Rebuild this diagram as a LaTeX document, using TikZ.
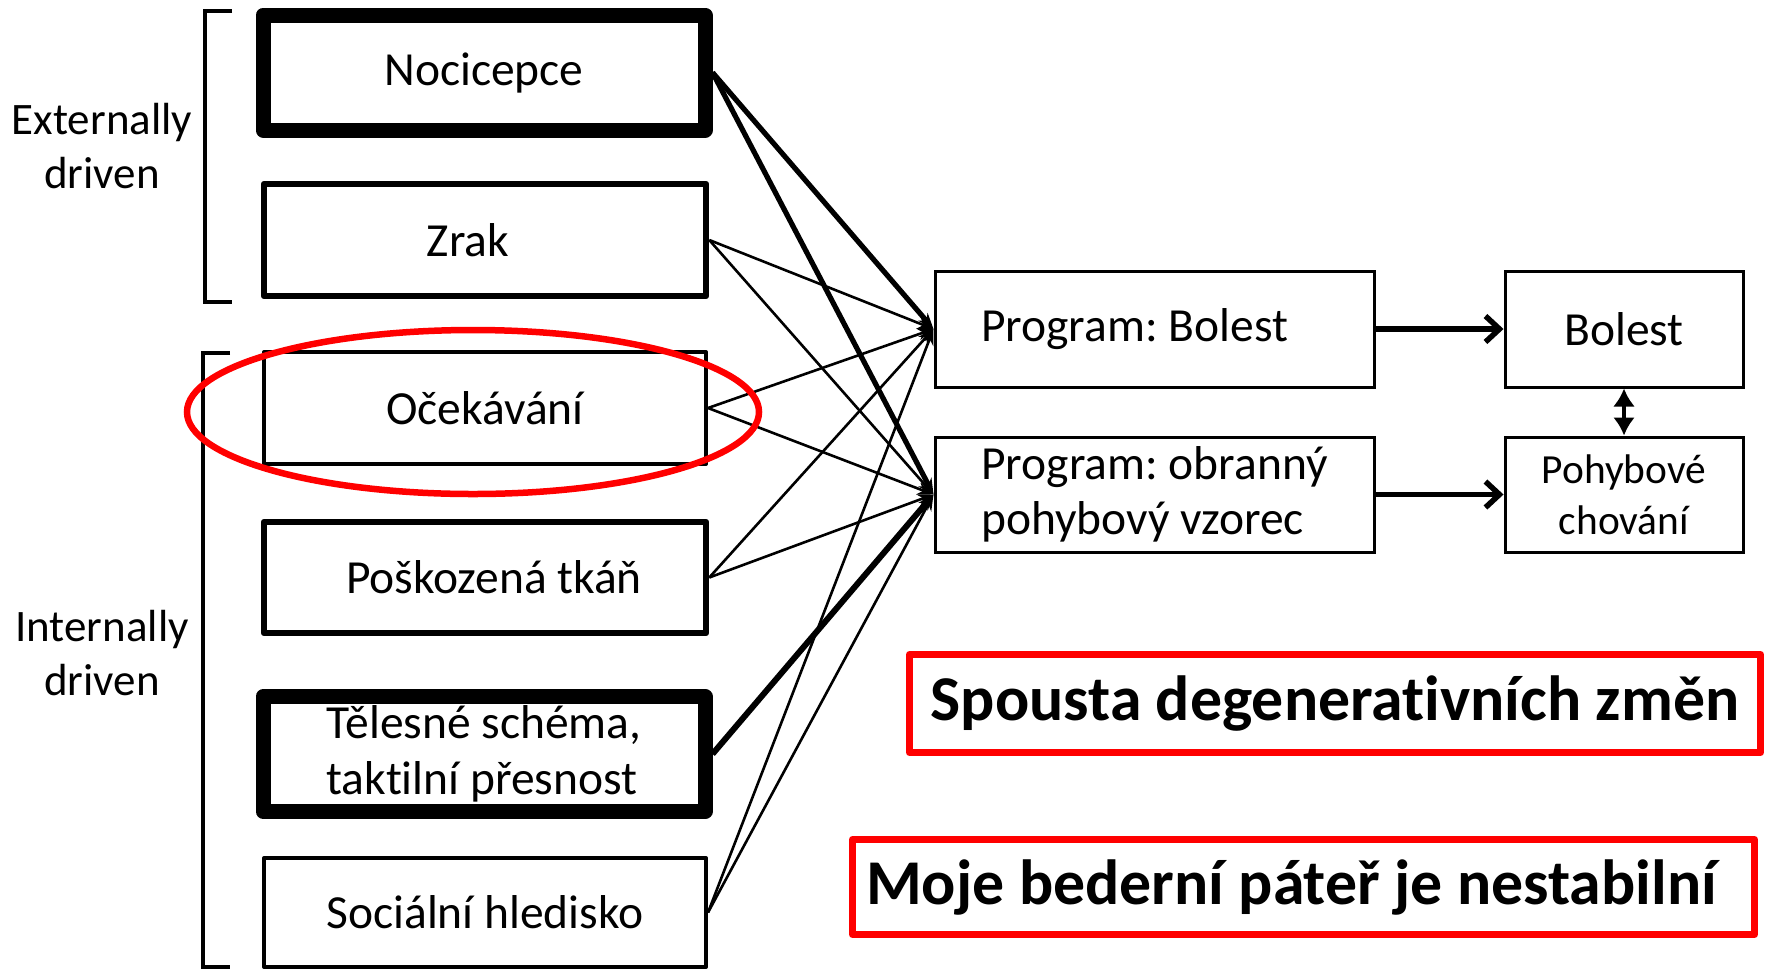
\documentclass[tikz,border=0pt]{standalone}
\usepackage{fontspec}
\setmainfont[Ligatures=NoCommon]{Carlito}
\frenchspacing
\usetikzlibrary{arrows.meta}
\tikzset{
  inbox/.style={draw, line join=round, minimum width=221pt, inner sep=0pt, align=center,
    font=\fontsize{23.75}{28}\selectfont},
  progbox/.style={draw, line width=1.5pt, minimum height=57.5pt, inner sep=0pt,
    font=\fontsize{23.75}{27.5}\selectfont},
  redbox/.style={draw=red, line width=3.5pt, line join=round, inner sep=0pt,
    font=\fontsize{31.9}{36}\selectfont\bfseries},
  conn/.style={line width=1.3pt, -{Stealth[length=8pt,width=6pt]}},
  conn thick/.style={line width=2.6pt, -{Stealth[length=8pt,width=6pt]}},
  outarrow/.style={line width=2.75pt, -{Straight Barb[length=7pt,width=13pt]}},
  side/.style={align=center, font=\fontsize{22.5}{27}\selectfont}
}
\begin{document}
\begin{tikzpicture}[x=0.5pt,y=-0.5pt]
\useasboundingbox (0,0) rectangle (1770,970);
% zavorky
\draw[line width=1.75pt] (232,11) -- (205,11) -- (205,302) -- (232,302);
\draw[line width=1.75pt] (230,353) -- (203,353) -- (203,967) -- (230,967);
\node[side] (ext) at (102,146) {Externally\\driven};
\node[side] (int) at (102,653) {Internally\\driven};
% vstupy
\node[inbox, line width=7.5pt, minimum height=57.5pt] (noci) at (484,72.5) {Nocicepce};
\node[inbox, line width=3.25pt, minimum height=56pt] (zrak) at (485,240) {Zrak\hspace*{17pt}};
\node[inbox, line width=2pt, minimum height=56pt] (ocek) at (485,408) {Očekávání};
\node[inbox, line width=3.25pt, minimum height=55.5pt] (posk) at (485,577.5) {\hspace*{9pt}Poškozená tkáň};
\node[inbox, line width=7.5pt, minimum height=57.5pt, align=left] (teles) at (484,754) {Tělesné schéma,\\taktilní přesnost};
\node[inbox, line width=2pt, minimum height=54.5pt] (soci) at (485,912.5) {Sociální hledisko};
% programy
\node[progbox, minimum width=219.5pt, minimum height=58pt] (pbol) at (1154.5,329) {Program: Bolest\hspace*{20pt}};
\node[progbox, minimum width=219.5pt, align=left] (pobr) at (1154.5,494.5) {Program: obranný\\pohybový vzorec};
\node[progbox, minimum width=119pt, minimum height=58pt] (bol) at (1624,329) {Bolest};
\node[progbox, minimum width=119pt, align=center, font=\fontsize{20.7}{25.5}\selectfont] (pohyb) at (1624,494.5) {Pohybové\\chování};
% spoje
\draw[conn thick] (noci.east) -- (pbol.west);
\draw[conn thick] (noci.east) -- (pobr.west);
\draw[conn] (zrak.east) -- (pbol.west);
\draw[conn] (zrak.east) -- (pobr.west);
\draw[conn] (ocek.east) -- (pbol.west);
\draw[conn] (ocek.east) -- (pobr.west);
\draw[conn] (posk.east) -- (pbol.west);
\draw[conn] (posk.east) -- (pobr.west);
\draw[conn thick, line width=3pt] (teles.east) -- (pobr.west);
\draw[conn] (soci.east) -- (pbol.west);
\draw[conn] (soci.east) -- (pobr.west);
\draw[outarrow] (pbol.east) -- (bol.west);
\draw[outarrow] (pobr.east) -- (pohyb.west);
\draw[line width=2.4pt, {Latex[length=9pt,width=11pt]}-{Latex[length=9pt,width=11pt]}] (bol.south) -- (pohyb.north);
% cervene
\draw[red, line width=3.25pt] (473,412) ellipse [x radius=143pt, y radius=41pt];
\node[redbox, minimum width=425.5pt, minimum height=49pt] (spousta) at (1335,703.5) {Spousta degenerativních změn};
\node[redbox, minimum width=451pt, minimum height=47.5pt] (moje) at (1303.5,887) {Moje bederní páteř je nestabilní\hspace*{12pt}};
\end{tikzpicture}
\end{document}
